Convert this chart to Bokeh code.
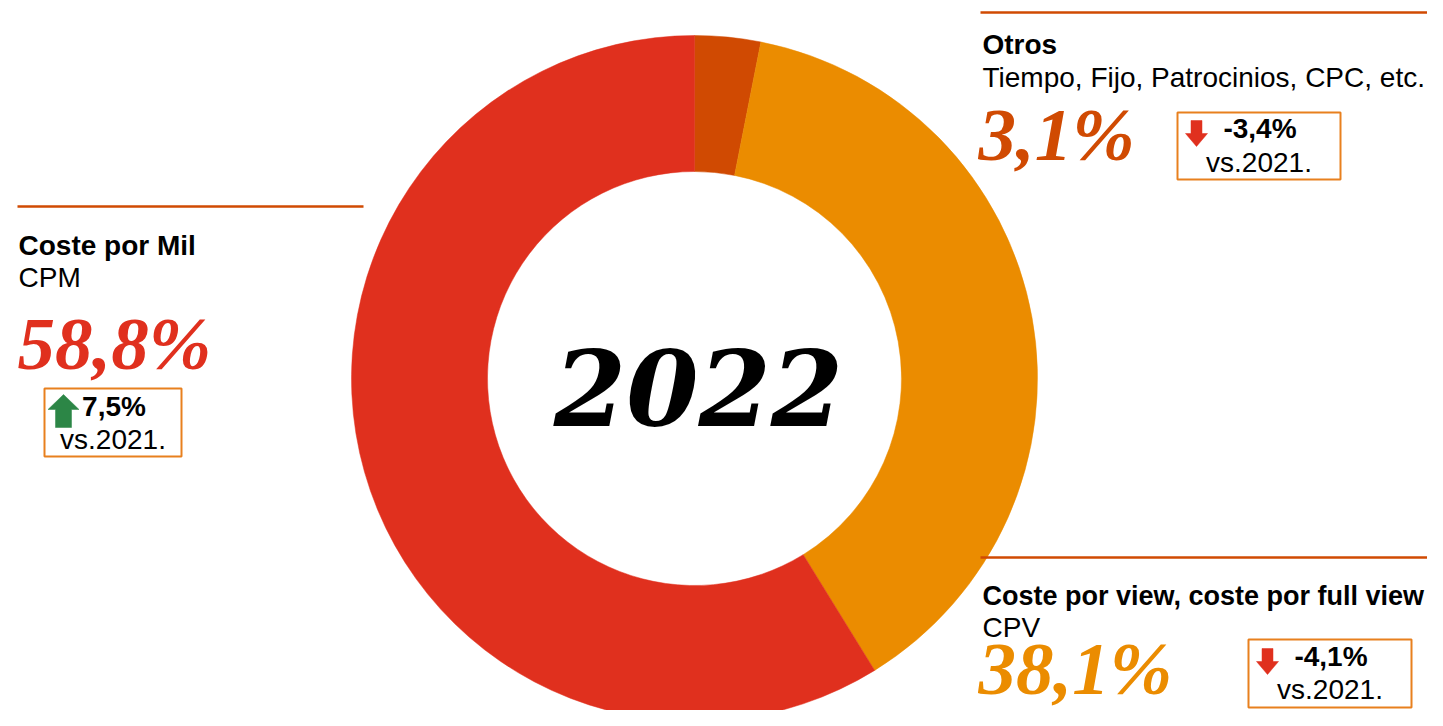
import math
from bokeh.plotting import figure
from bokeh.models import Range1d, ColumnDataSource
from bokeh.core.properties import value
from bokeh.embed import file_html
from bokeh.resources import INLINE

# ---------------- data ----------------
year_label = "2022"
compare_label = "vs.2021."
categories = ["Otros", "Coste por view, coste por full view", "Coste por Mil"]
subtitles = ["Tiempo, Fijo, Patrocinios, CPC, etc.", "CPV", "CPM"]
shares = [3.1, 38.1, 58.8]          # % of 2022
changes = [-3.4, -4.1, 7.5]         # change vs. 2021 (points)
slice_colors = ["#D04A02", "#EB8C00", "#E0301E"]

# ---------------- layout (figure pixels, origin top-left) ----------------
W, H = 1427, 710
def Y(py):
    return H - py

K = 0.37  # baseline correction for svg text (fraction of font size)
def TY(base, fs):
    return Y(base - K * fs)

SANS = value("Liberation Sans")
SERIF = value("Liberation Serif")
LINE_COLOR = "#D04A02"
BOX_COLOR = "#E8801E"
UP_COLOR = "#2C8646"
DOWN_COLOR = "#E0301E"
FS = 28
BIG = 75

p = figure(width=W, height=H, x_range=Range1d(0, W), y_range=Range1d(0, H),
           output_backend="svg", toolbar_location=None, min_border=0,
           min_border_left=0, min_border_right=0, min_border_top=0, min_border_bottom=0)
p.axis.visible = False
p.grid.visible = False
p.outline_line_color = None
p.background_fill_color = "white"
p.border_fill_color = "white"

# ---------------- donut ----------------
cx, cy = 694, Y(378)
total = sum(shares)
starts, ends = [], []
cum = 0.0
for s in shares:
    starts.append(math.pi / 2 - 2 * math.pi * cum / total)
    cum += s
    ends.append(math.pi / 2 - 2 * math.pi * cum / total)
src = ColumnDataSource(dict(x=[cx] * len(shares), y=[cy] * len(shares),
                            start=starts, end=ends, color=slice_colors))
p.annular_wedge(x="x", y="y", inner_radius=207, outer_radius=343,
                start_angle="start", end_angle="end", direction="clock",
                fill_color="color", line_color="color", line_width=0.5, source=src)

p.text(x=[698], y=[TY(425, 104)], text=[year_label], text_font=value("DejaVu Serif"),
       text_font_style="bold italic", text_font_size="104px", text_color="black",
       text_align="center", text_baseline="alphabetic")

# ---------------- annotation panels ----------------
D = 16  # lift of the bottom-right panel so it stays inside the figure
panels = [
    dict(lx0=980, lx1=W, ly=12, tx=982, t_base=54, t_fs=FS, s_base=87, n_x=978, n_base=162,
         box=(1177, 1340, 112, 179), v_base=138, c_base=172),
    dict(lx0=980, lx1=W, ly=573 - D, tx=982, t_base=621 - D, t_fs=27, s_base=653 - D, n_x=978,
         n_base=696, box=(1248, 1411, 655 - D, 723 - D), v_base=682 - D, c_base=715 - D),
    dict(lx0=17, lx1=363, ly=206, tx=18, t_base=255, t_fs=FS, s_base=287, n_x=17, n_base=371,
         box=(44, 181, 388, 456), v_base=416, c_base=449),
]

def fmt(v):
    return f"{v:.1f}%".replace(".", ",")

for i, pn in enumerate(panels):
    p.segment(x0=[pn["lx0"]], y0=[Y(pn["ly"])], x1=[pn["lx1"]], y1=[Y(pn["ly"])],
              line_color=LINE_COLOR, line_width=2.5)
    p.text(x=[pn["tx"]], y=[TY(pn["t_base"], pn["t_fs"])], text=[categories[i]], text_font=SANS,
           text_font_style="bold", text_font_size=f"{pn['t_fs']}px", text_color="black",
           text_baseline="alphabetic")
    p.text(x=[pn["tx"]], y=[TY(pn["s_base"], FS)], text=[subtitles[i]], text_font=SANS,
           text_font_size=f"{FS}px", text_color="black", text_baseline="alphabetic")
    p.text(x=[pn["n_x"]], y=[TY(pn["n_base"], BIG)], text=[fmt(shares[i])], text_font=SERIF,
           text_font_style="bold italic", text_font_size=f"{BIG}px", text_color=slice_colors[i],
           text_baseline="alphabetic")
    bl, br, bt, bb = pn["box"]
    p.quad(left=[bl], right=[br], top=[Y(bt)], bottom=[Y(bb)], fill_color="white",
           line_color=BOX_COLOR, line_width=2)
    bxc = (bl + br) / 2
    p.text(x=[bxc + 1], y=[TY(pn["v_base"], FS)], text=[fmt(changes[i])], text_font=SANS,
           text_font_style="bold", text_font_size=f"{FS}px", text_color="black",
           text_align="center", text_baseline="alphabetic")
    p.text(x=[bxc], y=[TY(pn["c_base"], FS)], text=[compare_label], text_font=SANS,
           text_font_size=f"{FS}px", text_color="black", text_align="center",
           text_baseline="alphabetic")
    # arrow
    if changes[i] >= 0:
        ax, top, bot, hw, sw, hh = bl + 19, pn["v_base"] - 22, pn["v_base"] + 11, 15.5, 8, 15
        xs = [ax, ax + hw, ax + sw, ax + sw, ax - sw, ax - sw, ax - hw]
        ys = [top, top + hh, top + hh, bot, bot, top + hh, top + hh]
        col = UP_COLOR
    else:
        ax, top, bot, hw, sw, hh = bl + 19, pn["v_base"] - 18, pn["v_base"] + 8, 11, 5.5, 13
        xs = [ax, ax + hw, ax + sw, ax + sw, ax - sw, ax - sw, ax - hw]
        ys = [bot, bot - hh, bot - hh, top, top, bot - hh, bot - hh]
        col = DOWN_COLOR
    p.patch(x=xs, y=[Y(v) for v in ys], fill_color=col, line_color=col, line_width=0.5)

open("out.html", "w").write(file_html(p, INLINE))
